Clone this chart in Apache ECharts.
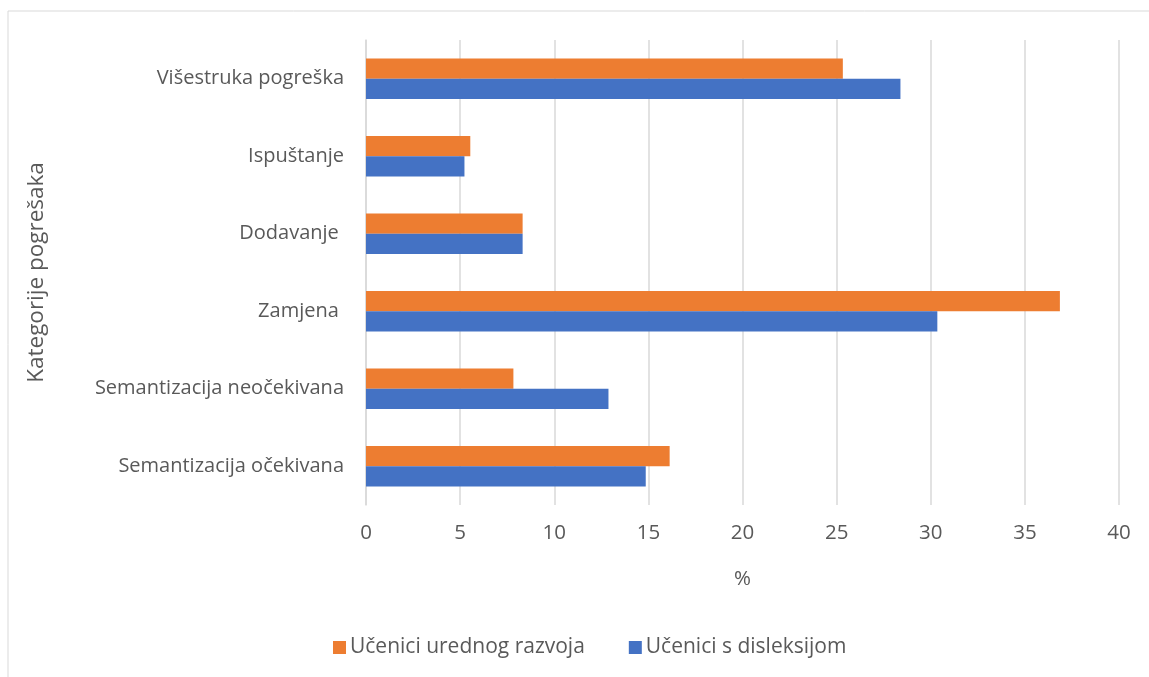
<!DOCTYPE html>
<html>
<head>
<meta charset="utf-8">
<script src="https://cdn.jsdelivr.net/npm/echarts@6/dist/echarts.min.js"></script>
<style>
  html, body { margin: 0; padding: 0; background: #fff; }
  #chart { width: 1149px; height: 677px; }
</style>
</head>
<body>
<div id="chart"></div>
<script>
// kategorije odozdo prema gore (os y ide od dna)
var categories = [
  'Semantizacija očekivana',
  'Semantizacija neočekivana',
  'Zamjena ',
  'Dodavanje ',
  'Ispuštanje',
  'Višestruka pogreška'
];
var urednogRazvoja = [16.13, 7.83, 36.86, 8.32, 5.54, 25.33];
var disleksija = [14.86, 12.88, 30.35, 8.32, 5.23, 28.39];
var xTicks = { min: 0, max: 40, interval: 5 };

var chart = echarts.init(document.getElementById('chart'));
var font = '"Open Sans", "Noto Sans", sans-serif';

chart.setOption({
  animation: false,
  textStyle: { fontFamily: font },
  graphic: [{
    type: 'rect',
    shape: { x: 8, y: 11, width: 1160, height: 700 },
    style: { fill: 'none', stroke: '#d9d9d9', lineWidth: 1 }
  }],
  legend: {
    data: ['Učenici urednog razvoja', 'Učenici s disleksijom'],
    top: 632,
    left: 328,
    itemWidth: 13,
    itemHeight: 13,
    itemGap: 44,
    icon: 'rect',
    textStyle: { fontSize: 21, color: '#595959', fontFamily: font, padding: [0, 0, 0, -1] }
  },
  grid: { left: 366, right: 30, top: 40, bottom: 172 },
  xAxis: {
    type: 'value',
    min: xTicks.min,
    max: xTicks.max,
    interval: xTicks.interval,
    name: '%',
    nameLocation: 'middle',
    nameGap: 64,
    nameTextStyle: { fontSize: 20.5, color: '#595959' },
    axisLine: { show: false },
    axisTick: { show: false },
    axisLabel: { fontSize: 20.5, color: '#595959', margin: 18 },
    splitLine: { lineStyle: { color: '#d9d9d9', width: 1.5 } }
  },
  yAxis: {
    type: 'category',
    data: categories,
    name: 'Kategorije pogrešaka',
    nameLocation: 'middle',
    nameRotate: 90,
    nameGap: 318,
    nameTextStyle: { fontSize: 22.5, color: '#595959' },
    axisLine: { show: true, lineStyle: { color: '#d9d9d9', width: 1.5 } },
    axisTick: { show: false },
    axisLabel: { fontSize: 20, color: '#595959', margin: 22 }
  },
  series: [{
    name: 'Učenici urednog razvoja',
    type: 'bar',
    data: urednogRazvoja,
    barGap: '0%',
    barCategoryGap: '48%',
    itemStyle: { color: '#ED7D31' }
  }, {
    name: 'Učenici s disleksijom',
    type: 'bar',
    data: disleksija,
    barGap: '0%',
    barCategoryGap: '48%',
    itemStyle: { color: '#4472C4' }
  }]
});
</script>
</body>
</html>
